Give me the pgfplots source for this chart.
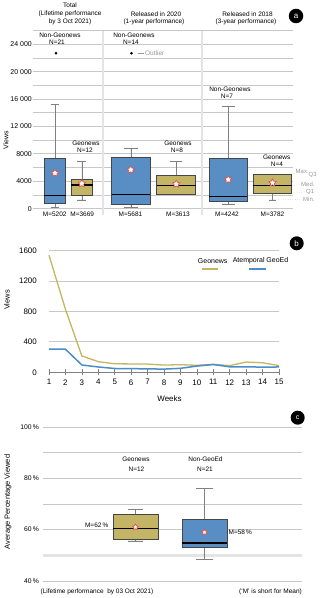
\documentclass[border=0pt]{standalone}
\usepackage{pgfplots}
\pgfplotsset{compat=1.18}
\usepgfplotslibrary{statistics}
\usepackage{fontspec}
\setmainfont{Liberation Sans}
\definecolor{boxblue}{RGB}{88,142,196}
\definecolor{boxolive}{RGB}{196,180,102}
\definecolor{lineolive}{RGB}{197,180,96}
\definecolor{lineblue}{RGB}{76,140,200}
\definecolor{gridgray}{RGB}{200,200,200}
\definecolor{sepgray}{RGB}{228,228,228}
\definecolor{edgegray}{RGB}{70,70,70}
\definecolor{anngray}{RGB}{150,150,150}
\definecolor{starred}{RGB}{225,80,80}
\newcommand\fs[1]{\fontsize{#1}{#1}\selectfont}
\pgfdeclareplotmark{wstar}{%
  \pgfpathmoveto{\pgfpointpolar{90}{\pgfplotmarksize}}%
  \pgfpathlineto{\pgfpointpolar{126}{0.55\pgfplotmarksize}}%
  \pgfpathlineto{\pgfpointpolar{162}{\pgfplotmarksize}}%
  \pgfpathlineto{\pgfpointpolar{198}{0.55\pgfplotmarksize}}%
  \pgfpathlineto{\pgfpointpolar{234}{\pgfplotmarksize}}%
  \pgfpathlineto{\pgfpointpolar{270}{0.55\pgfplotmarksize}}%
  \pgfpathlineto{\pgfpointpolar{306}{\pgfplotmarksize}}%
  \pgfpathlineto{\pgfpointpolar{342}{0.55\pgfplotmarksize}}%
  \pgfpathlineto{\pgfpointpolar{18}{\pgfplotmarksize}}%
  \pgfpathlineto{\pgfpointpolar{54}{0.55\pgfplotmarksize}}%
  \pgfpathclose
  \pgfusepathqfillstroke
}
\pgfplotsset{
  mybox/.style={boxplot/draw direction=y, draw=edgegray, line width=0.7bp,
    boxplot/every median/.style={black, line width=1.4bp},
    boxplot/every whisker/.style={gray, line width=0.6bp}},
  /pgf/number format/assume math mode=true,
  /pgf/number format/1000 sep={},
}
\begin{document}
\begin{tikzpicture}[x=1bp,y=1bp]
\useasboundingbox (0,0) rectangle (320,598);
% ---------------- panel a ----------------
\begin{axis}[
  at={(33bp,389.3bp)}, anchor=south west, scale only axis,
  width=260bp, height=178.1bp,
  xmin=33, xmax=293, ymin=0, ymax=26000,
  xtick=\empty, ytick={0,4000,8000,12000,16000,20000,24000},
  yticklabels={0,4000,8000,12~000,16~000,20~000,24~000},
  scaled y ticks=false,
  minor ytick={2000,6000,10000,14000,18000,22000,26000},
  grid=both, major grid style={gridgray, line width=0.8bp},
  minor grid style={gridgray, line width=0.8bp},
  axis line style={draw=none}, tick style={draw=none},
  yticklabel style={font=\fs{7}, inner sep=1bp},
  clip=false,
]
\draw[sepgray, line width=2bp] (axis cs:103,-900) -- (axis cs:103,26000);
\draw[sepgray, line width=2bp] (axis cs:202,-900) -- (axis cs:202,26000);
\addplot[mybox, fill=boxblue, boxplot prepared={draw position=55, box extend=21.4, whisker extend=7.5,
  lower whisker=150, lower quartile=790, median=1900, upper quartile=7360, upper whisker=15240}] coordinates {};
\addplot[mybox, fill=boxolive, boxplot prepared={draw position=81.8, box extend=21.7, whisker extend=9,
  lower whisker=1270, lower quartile=2000, median=3460, upper quartile=4340, upper whisker=6960}] coordinates {};
\addplot[mybox, fill=boxblue, boxplot prepared={draw position=130.8, box extend=38.3, whisker extend=14,
  lower whisker=150, lower quartile=640, median=2100, upper quartile=7550, upper whisker=8820}] coordinates {};
\addplot[mybox, fill=boxolive, boxplot prepared={draw position=176.2, box extend=39, whisker extend=12,
  lower whisker=2100, lower quartile=2150, median=3360, upper quartile=4920, upper whisker=6960}] coordinates {};
\addplot[mybox, fill=boxblue, boxplot prepared={draw position=228.2, box extend=38.3, whisker extend=12.7,
  lower whisker=700, lower quartile=1020, median=1750, upper quartile=7360, upper whisker=14900}] coordinates {};
\addplot[mybox, fill=boxolive, boxplot prepared={draw position=272.5, box extend=38.4, whisker extend=7,
  lower whisker=1270, lower quartile=2250, median=3360, upper quartile=4950, upper whisker=5020}] coordinates {};
\addplot[only marks, mark=*, mark size=1.1bp, black] coordinates {(56,22700) (131.5,22700)};
\addplot[only marks, mark=wstar, mark size=3.8bp, mark options={draw=starred, fill=white, line width=0.7bp}]
  coordinates {(55,5202) (81.8,3669) (130.8,5681) (176.2,3613) (228.2,4242) (272.5,3782)};
\end{axis}
% ---------------- panel b ----------------
\begin{axis}[
  at={(49bp,225.7bp)}, anchor=south west, scale only axis,
  width=230bp, height=121.6bp,
  xmin=1, xmax=15, ymin=0, ymax=1600,
  xtick={1,...,15}, ytick={0,400,800,1200,1600},
  ymajorgrids, grid style={gridgray, line width=0.9bp},
  axis x line*=bottom, axis y line*=left,
  y axis line style={draw=none}, ytick style={draw=none},
  x axis line style={gray, line width=0.6bp},
  xtick style={gray, line width=0.6bp}, xtick align=center, major tick length=6bp,
  yticklabel style={font=\fs{8}, inner sep=1bp, xshift=-11bp},
  xticklabel style={font=\fs{8}, inner sep=1bp, yshift=-3bp},
  clip=false,
]
\addplot[lineolive, line width=1.3bp] coordinates {(1,1540) (2,830) (3,215) (4,140) (5,112) (6,110) (7,108) (8,95) (9,100) (10,92) (11,105) (12,88) (13,135) (14,125) (15,88)};
\addplot[lineblue, line width=1.5bp] coordinates {(1,306) (2,304) (3,96) (4,70) (5,50) (6,48) (7,45) (8,42) (9,52) (10,82) (11,102) (12,72) (13,72) (14,68) (15,70)};
\end{axis}
% ---------------- panel c ----------------
\begin{axis}[
  at={(43bp,17bp)}, anchor=south west, scale only axis,
  width=259bp, height=154bp,
  xmin=43, xmax=302, ymin=40, ymax=100,
  xtick=\empty, ytick={40,60,80,100},
  yticklabels={40\,\%,60\,\%,80\,\%,100\,\%},
  minor ytick={70,90},
  grid=both, major grid style={gridgray, line width=0.8bp},
  minor grid style={gridgray, line width=0.8bp},
  axis line style={draw=none}, tick style={draw=none},
  yticklabel style={font=\fs{6.8}, inner sep=1bp, xshift=-3bp},
  clip=false,
]
\draw[sepgray, line width=2.5bp] (axis cs:43,50) -- (axis cs:302,50);
\addplot[mybox, fill=boxolive, boxplot prepared={draw position=135.5, box extend=45, whisker extend=15.5,
  lower whisker=55.6, lower quartile=56.4, median=60.4, upper quartile=66, upper whisker=68}] coordinates {};
\addplot[mybox, fill=boxblue, boxplot prepared={draw position=204.5, box extend=45, whisker extend=17,
  lower whisker=48.3, lower quartile=53, median=54.8, upper quartile=64, upper whisker=76}] coordinates {};
\addplot[only marks, mark=wstar, mark size=3bp, mark options={draw=starred, fill=white, line width=0.7bp}]
  coordinates {(135.5,61) (204.5,59)};
\end{axis}
% ---------------- text: panel a ----------------
\begin{scope}[every node/.style={font=\fs{6.5}, inner sep=0pt}]
\node at (70,{598-5.5}) {Total};
\node at (70,{598-14}) {(Lifetime performance};
\node at (70,{598-22}) {by 3 Oct 2021)};
\node at (156,{598-14}) {Released in 2020};
\node at (154,{598-22}) {(1-year performance)};
\node at (247.5,{598-14}) {Released in 2018};
\node at (246,{598-22}) {(3-year performance)};
\node at (60,{598-35}) {Non-Geonews};
\node at (57,{598-42}) {N=21};
\node at (134,{598-35}) {Non-Geonews};
\node at (131,{598-42}) {N=14};
\node at (230,{598-89.5}) {Non-Geonews};
\node at (227,{598-96}) {N=7};
\node at (86,{598-143.3}) {Geonews};
\node at (85,{598-150}) {N=12};
\node at (178,{598-143.3}) {Geonews};
\node at (177,{598-150}) {N=8};
\node at (276.7,{598-157.3}) {Geonews};
\node at (277,{598-164}) {N=4};
\node at (54.7,{598-214}) {M=5202};
\node at (82.2,{598-214}) {M=3669};
\node at (130.5,{598-214}) {M=5681};
\node at (178,{598-214}) {M=3613};
\node at (227,{598-214}) {M=4242};
\node at (272.5,{598-214}) {M=3782};
\node[rotate=90, font=\fs{7}] at (6,{598-140}) {Views};
\draw[anngray, line width=0.4bp] (137.5,{598-53}) -- (143.5,{598-53});
\node[anngray, anchor=west, font=\fs{6.5}] at (145,{598-53}) {Outlier};
\draw[anngray, line width=0.4bp, dotted] (292,{598-174}) -- (296,{598-172.5});
\node[anngray, anchor=west, font=\fs{6}] at (295.5,{598-171.7}) {Max.};
\node[anngray, anchor=west, font=\fs{6}] at (308.5,{598-175.3}) {Q3};
\draw[anngray, line width=0.4bp, dotted] (292,{598-185.7}) -- (300.5,{598-184.3});
\node[anngray, anchor=west, font=\fs{6}] at (301,{598-184}) {Med.};
\draw[anngray, line width=0.4bp, dotted] (292,{598-193.3}) -- (305.5,{598-191.8});
\node[anngray, anchor=west, font=\fs{6}] at (306,{598-191.5}) {Q1};
\draw[anngray, line width=0.4bp, dotted] (276,{598-200}) -- (302.5,{598-199.2});
\node[anngray, anchor=west, font=\fs{6}] at (303,{598-199}) {Min.};
\node[circle, fill=black, text=white, minimum size=14.5bp, inner sep=0pt, font=\fs{8}] at (296,{598-16}) {a};
% ---------------- text: panel b ----------------
\node[rotate=90, font=\fs{7.5}] at (7,{598-300}) {Views};
\node[font=\fs{8}] at (169.5,{598-398.5}) {Weeks};
\node[font=\fs{7}] at (212.7,{598-261}) {Geonews};
\node[font=\fs{7}] at (260.5,{598-261}) {Atemporal GeoEd};
\draw[lineolive, line width=1.5bp] (201.7,{598-269}) -- (218.3,{598-269});
\draw[lineblue, line width=1.5bp] (249,{598-269}) -- (265.7,{598-269});
\node[circle, fill=black, text=white, minimum size=14bp, inner sep=0pt, font=\fs{8}] at (296.7,{598-243.3}) {b};
% ---------------- text: panel c ----------------
\node[rotate=90, font=\fs{7.5}] at (8,{598-502}) {Average Percentage Viewed};
\node at (136,{598-459}) {Geonews};
\node at (136.5,{598-469}) {N=12};
\node at (205.5,{598-459}) {Non-GeoEd};
\node at (205,{598-469}) {N=21};
\node[anchor=east] at (108.5,{598-525}) {M=62\,\%};
\node[anchor=west] at (228.5,{598-532.3}) {M=58\,\%};
\node[anchor=west] at (40.5,{598-591.7}) {(Lifetime performance\ \ by 03 Oct 2021)};
\node[anchor=east] at (302,{598-591.7}) {(`M' is short for Mean)};
\node[circle, fill=black, text=white, minimum size=14bp, inner sep=0pt, font=\fs{7}] at (297.7,{598-417.7}) {c};
\end{scope}
\end{tikzpicture}
\end{document}
